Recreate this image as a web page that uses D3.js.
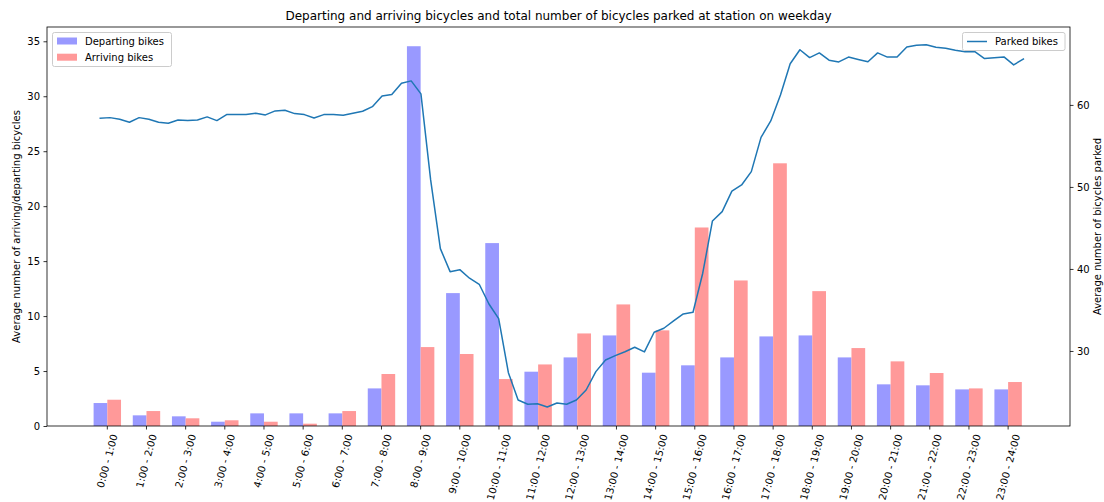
<!DOCTYPE html>
<html>
<head>
<meta charset="utf-8">
<script src="https://cdn.jsdelivr.net/npm/d3@7/dist/d3.min.js"></script>
<style>
  html, body { margin: 0; padding: 0; background: #fff; }
  svg { display: block; font-family: "DejaVu Sans", sans-serif; }
</style>
</head>
<body>
<svg id="chart" width="1104" height="502"></svg>
<script>
// Hourly slots shown on the x axis
const hourLabels = [
  "0:00 - 1:00", "1:00 - 2:00", "2:00 - 3:00", "3:00 - 4:00", "4:00 - 5:00",
  "5:00 - 6:00", "6:00 - 7:00", "7:00 - 8:00", "8:00 - 9:00", "9:00 - 10:00",
  "10:00 - 11:00", "11:00 - 12:00", "12:00 - 13:00", "13:00 - 14:00",
  "14:00 - 15:00", "15:00 - 16:00", "16:00 - 17:00", "17:00 - 18:00",
  "18:00 - 19:00", "19:00 - 20:00", "20:00 - 21:00", "21:00 - 22:00",
  "22:00 - 23:00", "23:00 - 24:00"
];

// Average departures / arrivals per hour
const departing = [2.09, 0.97, 0.88, 0.39, 1.15, 1.15, 1.15, 3.42, 34.55, 12.09,
  16.64, 4.94, 6.24, 8.24, 4.85, 5.52, 6.24, 8.15, 8.24, 6.24, 3.79, 3.70, 3.33, 3.33];
const arriving = [2.39, 1.36, 0.70, 0.52, 0.39, 0.21, 1.36, 4.73, 7.18, 6.55,
  4.27, 5.60, 8.42, 11.06, 8.70, 18.06, 13.24, 23.90, 12.27, 7.09, 5.88, 4.82, 3.42, 4.00];

// Average number of bicycles parked, one value per quarter hour
const parked = [
  58.38, 58.45, 58.26, 57.89, 58.45, 58.26, 57.89, 57.77, 58.17, 58.09,
  58.17, 58.54, 58.09, 58.82, 58.82, 58.82, 58.99, 58.78, 59.27, 59.35,
  58.94, 58.82, 58.41, 58.82, 58.82, 58.74, 58.99, 59.23, 59.79, 61.10,
  61.26, 62.65, 62.93, 61.34, 50.85, 42.48, 39.67, 39.91, 38.87, 38.13,
  35.73, 33.94, 27.35, 24.02, 23.50, 23.57, 23.17, 23.66, 23.50, 24.02,
  25.24, 27.48, 28.90, 29.43, 29.91, 30.45, 29.88, 32.28, 32.77, 33.66,
  34.51, 34.72, 39.48, 45.85, 46.99, 49.48, 50.24, 51.87, 56.04, 58.05,
  61.22, 65.02, 66.73, 65.77, 66.34, 65.45, 65.24, 65.83, 65.55, 65.27,
  66.34, 65.83, 65.83, 67.05, 67.28, 67.34, 67.04, 66.91, 66.67, 66.49,
  66.49, 65.65, 65.76, 65.85, 64.88, 65.59
];

const leftTicks = [0, 5, 10, 15, 20, 25, 30, 35];
const rightTicks = [30, 40, 50, 60];

const titleText = "Departing and arriving bicycles and total number of bicycles parked at station on weekday";
const leftLabel = "Average number of arriving/departing bicycles";
const rightLabel = "Average number of bicycles parked";

// ---- layout ----
const W = 1104, H = 502;
const plot = { left: 47, right: 1070, top: 27, bottom: 426 };
const barWidth = 0.35;
const fontPx = 10;

const svg = d3.select("#chart");

// x in hour units: bars sit either side of each integer tick
const x = d3.scaleLinear().domain([-1.54, 24.58]).range([plot.left, plot.right]);
const yL = d3.scaleLinear().domain([0, 36.3]).range([plot.bottom, plot.top]);
const yR = d3.scaleLinear().domain([20.85, 69.5]).range([plot.bottom, plot.top]);
// quarter-hour samples spread across the hourly axis
const q = d3.scaleLinear().domain([0, parked.length - 1]).range([-0.18, 23.39]);

// ---- bars ----
const bars = svg.append("g");
bars.selectAll("rect.dep").data(departing).join("rect")
  .attr("class", "dep")
  .attr("x", (d, i) => x(i - barWidth))
  .attr("width", (d, i) => x(i) - x(i - barWidth))
  .attr("y", d => yL(d))
  .attr("height", d => yL(0) - yL(d))
  .attr("fill", "#9999ff");
bars.selectAll("rect.arr").data(arriving).join("rect")
  .attr("class", "arr")
  .attr("x", (d, i) => x(i))
  .attr("width", (d, i) => x(i + barWidth) - x(i))
  .attr("y", d => yL(d))
  .attr("height", d => yL(0) - yL(d))
  .attr("fill", "#ff9999");

// ---- left legend (bars) ----
const legL = svg.append("g");
legL.append("rect")
  .attr("x", 52.5).attr("y", 32.5).attr("width", 119).attr("height", 34)
  .attr("rx", 2).attr("fill", "#fff").attr("fill-opacity", 0.8)
  .attr("stroke", "#cccccc").attr("stroke-width", 1);
[["Departing bikes", "#9999ff"], ["Arriving bikes", "#ff9999"]].forEach(([t, c], k) => {
  const cy = 41 + k * 16.2;
  legL.append("rect").attr("x", 57).attr("y", cy - 3.5).attr("width", 20).attr("height", 7).attr("fill", c);
  legL.append("text").attr("x", 85).attr("y", cy + 3.7)
    .attr("font-size", fontPx).attr("fill", "#000").text(t);
});

// ---- parked line ----
const line = d3.line().x((d, i) => x(q(i))).y(d => yR(d));
svg.append("path").datum(parked)
  .attr("d", line)
  .attr("fill", "none")
  .attr("stroke", "#1f77b4")
  .attr("stroke-width", 1.5)
  .attr("stroke-linejoin", "round")
  .attr("stroke-linecap", "square");

// ---- right legend (line) ----
const legR = svg.append("g");
legR.append("rect")
  .attr("x", 962.5).attr("y", 32.5).attr("width", 102.5).attr("height", 18)
  .attr("rx", 2).attr("fill", "#fff").attr("fill-opacity", 0.8)
  .attr("stroke", "#cccccc").attr("stroke-width", 1);
legR.append("line").attr("x1", 967).attr("x2", 987).attr("y1", 41.5).attr("y2", 41.5)
  .attr("stroke", "#1f77b4").attr("stroke-width", 1.5);
legR.append("text").attr("x", 995).attr("y", 45.2)
  .attr("font-size", fontPx).attr("fill", "#000").text("Parked bikes");

// ---- frame ----
const frame = svg.append("g").attr("stroke", "#000").attr("stroke-width", 0.8).attr("fill", "none");
frame.append("rect")
  .attr("x", plot.left).attr("y", plot.top)
  .attr("width", plot.right - plot.left).attr("height", plot.bottom - plot.top);

// ---- left axis ----
const axL = svg.append("g").attr("transform", `translate(${plot.left},0)`)
  .call(d3.axisLeft(yL).tickValues(leftTicks).tickSize(3.5).tickPadding(3.5));
axL.select(".domain").remove();
axL.selectAll("line").attr("stroke", "#000").attr("stroke-width", 0.8);
axL.selectAll("text").attr("font-size", fontPx).attr("font-family", "DejaVu Sans").attr("fill", "#000");

// ---- right axis ----
const axR = svg.append("g").attr("transform", `translate(${plot.right},0)`)
  .call(d3.axisRight(yR).tickValues(rightTicks).tickSize(3.5).tickPadding(3.5));
axR.select(".domain").remove();
axR.selectAll("line").attr("stroke", "#000").attr("stroke-width", 0.8);
axR.selectAll("text").attr("font-size", fontPx).attr("font-family", "DejaVu Sans").attr("fill", "#000");

// ---- x axis ticks and rotated labels ----
const axX = svg.append("g");
axX.selectAll("line").data(hourLabels).join("line")
  .attr("x1", (d, i) => x(i)).attr("x2", (d, i) => x(i))
  .attr("y1", plot.bottom).attr("y2", plot.bottom + 3.5)
  .attr("stroke", "#000").attr("stroke-width", 0.8);
const xt = axX.selectAll("text").data(hourLabels).join("text")
  .attr("font-size", fontPx).attr("fill", "#000")
  .attr("text-anchor", "end")
  .text(d => d);
const cos75 = Math.cos(75 * Math.PI / 180);
xt.each(function(d, i) {
  const L = this.getComputedTextLength();
  const ex = x(i) + (cos75 * L + 6.66) / 2;
  const ey = plot.bottom + 7 + 2.4;
  d3.select(this).attr("x", ex).attr("y", ey)
    .attr("transform", `rotate(-75,${ex},${ey})`);
});

// ---- titles ----
svg.append("text")
  .attr("x", (plot.left + plot.right) / 2).attr("y", 19.5)
  .attr("text-anchor", "middle").attr("font-size", 12).attr("fill", "#000")
  .text(titleText);
const midY = (plot.top + plot.bottom) / 2;
svg.append("text")
  .attr("transform", `translate(20,${midY}) rotate(-90)`)
  .attr("text-anchor", "middle").attr("font-size", fontPx).attr("fill", "#000")
  .text(leftLabel);
svg.append("text")
  .attr("transform", `translate(1101,${midY}) rotate(-90)`)
  .attr("text-anchor", "middle").attr("font-size", fontPx).attr("fill", "#000")
  .text(rightLabel);
</script>
</body>
</html>
